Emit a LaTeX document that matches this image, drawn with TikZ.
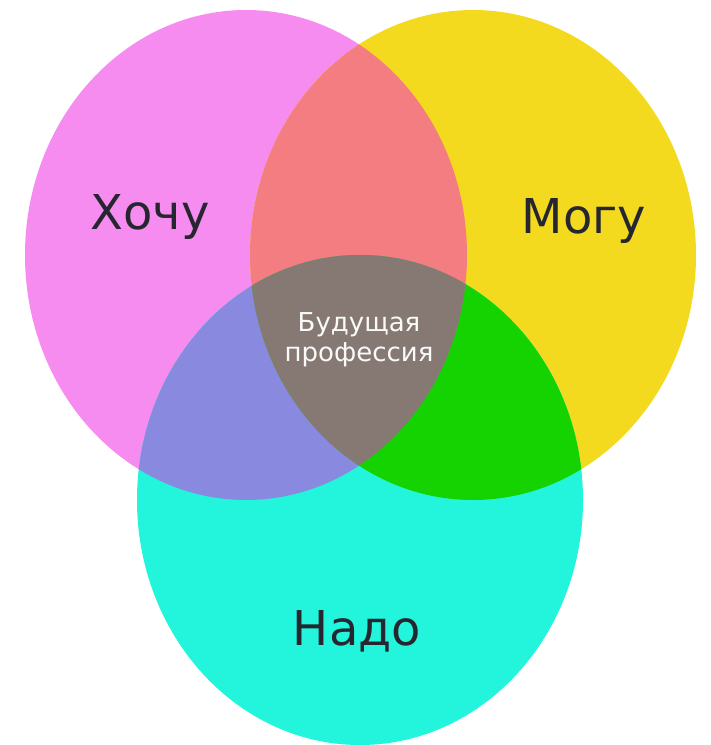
\documentclass[tikz,border=0pt]{standalone}
\usepackage{fontspec}
\setmainfont{DejaVu Sans}
\definecolor{wantcol}{HTML}{F68BF0}
\definecolor{cancol}{HTML}{F4DA1F}
\definecolor{needcol}{HTML}{22F5DC}
\definecolor{wantcan}{HTML}{F37D80}
\definecolor{wantneed}{HTML}{8989E0}
\definecolor{canneed}{HTML}{14D300}
\definecolor{allthree}{HTML}{867974}
\definecolor{inkcol}{HTML}{262630}
\begin{document}
\begin{tikzpicture}
    [x=1pt, y=-1pt,
      word/.style={text=inkcol, font=\fontsize{48}{56}\selectfont, anchor=base},
      core/.style={text=white!96!allthree, font=\fontsize{26}{30}\selectfont, align=center},
     ]
    \useasboundingbox (0,0) rectangle (711,745);
    \def\wantset{(246,255) ellipse [x radius=221, y radius=245]}
    \def\canset{(473,255) ellipse [x radius=223, y radius=245]}
    \def\needset{(360,500) ellipse [x radius=223, y radius=245]}
    % the three sets
    \fill[wantcol] \wantset;
    \fill[cancol] \canset;
    \fill[needcol] \needset;
    % pairwise overlaps
    \begin{scope}
      \clip \wantset;
      \fill[wantcan] \canset;
      \fill[wantneed] \needset;
    \end{scope}
    \begin{scope}
      \clip \canset;
      \fill[canneed] \needset;
    \end{scope}
    % middle
    \begin{scope}
      \clip \wantset;
      \clip \canset;
      \fill[allthree] \needset;
    \end{scope}
    \node[word] (want) at (150,229) {Хочу};
    \node[word] (can) at (584,233) {Могу};
    \node[word] (need) at (357,645) {Надо};
    \node[core] (job) at (359,340) {Будущая\\профессия};
\end{tikzpicture}
\end{document}
